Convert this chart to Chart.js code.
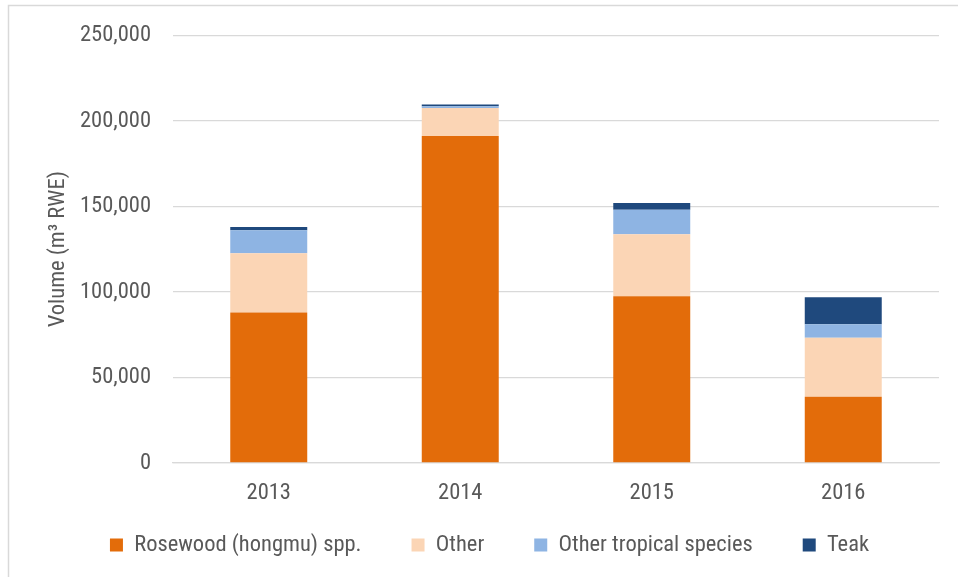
<!DOCTYPE html>
<html>
<head>
<meta charset="utf-8">
<script src="https://cdn.jsdelivr.net/npm/chart.js@4"></script>
<style>
  html, body { margin: 0; padding: 0; background: #ffffff; }
  #wrap { position: relative; width: 958px; height: 577px; }
  canvas { display: block; }
</style>
</head>
<body>
<div id="wrap"><canvas id="c" width="958" height="577"></canvas></div>
<script>
const categories = ["2013", "2014", "2015", "2016"];
const rosewood = [88000, 191200, 97500, 38700];
const other = [34700, 16400, 36200, 34500];
const otherTropical = [13400, 1000, 14400, 8000];
const teak = [1900, 1000, 3900, 15800];
const yTicks = [0, 50000, 100000, 150000, 200000, 250000];
const seriesNames = ["Rosewood (hongmu) spp.", "Other", "Other tropical species", "Teak"];
const seriesColors = ["#E36C0A", "#FBD5B5", "#8EB4E3", "#1F497D"];

const FONT = "'Liberation Sans Narrow', 'Arial Narrow', 'Roboto Condensed', 'Liberation Sans', sans-serif";
const FS = 22.5;
const TEXT = "#595959";
const GRID = "#D9D9D9";
const LEGEND_PAD = 50;
const LEGEND_CENTER_Y = 545;

const framePlugin = {
  id: 'frame',
  afterDraw(chart) {
    const ctx = chart.ctx;
    ctx.save();
    ctx.strokeStyle = GRID;
    ctx.lineWidth = 1.5;
    ctx.beginPath();
    ctx.moveTo(8.5, 577);
    ctx.lineTo(8.5, 5.5);
    ctx.lineTo(958, 5.5);
    ctx.stroke();
    ctx.restore();
  }
};

// keep wide horizontal gaps between legend items while placing the row at the right height
const legendPlace = {
  id: 'legendPlace',
  afterLayout(chart) {
    const lg = chart.legend;
    if (!lg) return;
    lg.top = LEGEND_CENTER_Y - LEGEND_PAD - FS / 2;
    lg.bottom = chart.height;
    lg.height = lg.bottom - lg.top;
  }
};

const seriesData = [rosewood, other, otherTropical, teak];
const datasets = seriesData.map((d, i) => ({
  label: seriesNames[i],
  data: d,
  backgroundColor: seriesColors[i],
  borderWidth: 0,
  barPercentage: 0.402,
  categoryPercentage: 1.0
}));

new Chart(document.getElementById('c'), {
  type: 'bar',
  data: { labels: categories, datasets },
  plugins: [framePlugin, legendPlace],
  options: {
    responsive: false,
    animation: false,
    layout: { padding: { left: 40, right: 19, top: 34, bottom: 0 } },
    plugins: {
      legend: {
        position: 'bottom',
        maxHeight: 54,
        labels: {
          color: TEXT,
          font: { family: FONT, size: FS },
          boxWidth: 13,
          boxHeight: 13,
          padding: LEGEND_PAD
        }
      },
      tooltip: { enabled: false }
    },
    scales: {
      x: {
        stacked: true,
        grid: { display: false, drawTicks: false },
        border: { display: true, color: GRID, width: 1.3 },
        ticks: { color: TEXT, font: { family: FONT, size: FS }, padding: 17 },
        afterFit(s) { s.height = 60; }
      },
      y: {
        stacked: true,
        min: 0,
        max: 250000,
        afterBuildTicks(s) { s.ticks = yTicks.map(v => ({ value: v })); },
        grid: { color: GRID, lineWidth: 1.3, drawTicks: false },
        border: { display: false },
        ticks: {
          color: TEXT,
          font: { family: FONT, size: FS },
          padding: 22,
          callback: v => v.toLocaleString('en-US')
        },
        title: {
          display: true,
          text: 'Volume (m\u00B3 RWE)',
          color: TEXT,
          font: { family: FONT, size: FS },
          padding: { top: 5, bottom: 0 }
        },
        afterFit(s) { s.width = 133; }
      }
    }
  }
});
</script>
</body>
</html>
